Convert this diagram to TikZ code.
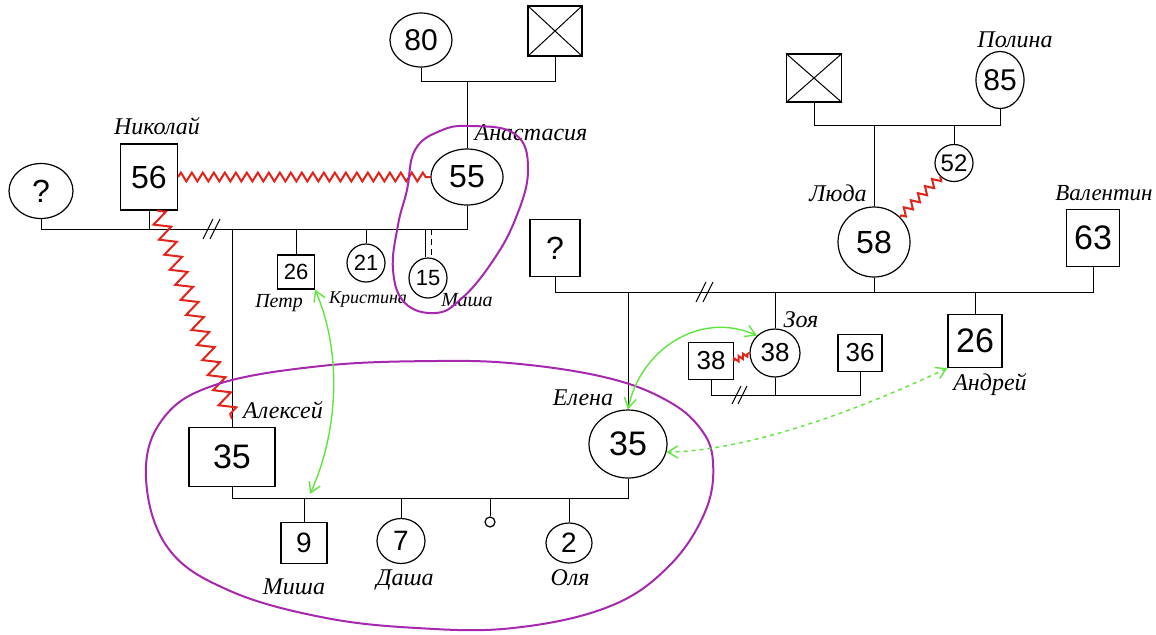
\documentclass[tikz,border=0pt]{standalone}
\usepackage{fontspec}
\setmainfont{Liberation Sans}
\newfontfamily\handfont{Liberation Serif}
\usetikzlibrary{shapes.geometric,decorations.pathmorphing,arrows.meta}
\definecolor{zred}{RGB}{225,35,25}
\definecolor{grn}{RGB}{95,230,60}
\definecolor{purp}{RGB}{165,40,175}
\tikzset{
  num/.style={font=\fontsize{#1}{#1}\selectfont},
  fem/.style={ellipse, draw, line width=0.6pt, inner sep=0pt},
  male/.style={rectangle, draw, line width=0.6pt, inner sep=0pt},
  lbl/.style={font=\handfont\itshape\fontsize{#1}{#1}\selectfont, inner sep=0pt},
  ln/.style={line width=0.5pt},
  zz/.style args={#1/#2}{draw=zred, line width=1pt, decorate, decoration={zigzag, segment length=#1, amplitude=#2}},
  loop/.style={draw=purp, line width=1pt},
  garrow/.style={draw=grn, line width=0.7pt, {Straight Barb[length=5pt,width=6pt]}-{Straight Barb[length=5pt,width=6pt]}},
}
\begin{document}
\begin{tikzpicture}[x=0.5pt,y=-0.5pt]
\useasboundingbox (0,0) rectangle (1156,634);
% ---------- left family ----------
\node[fem, minimum width=31pt, minimum height=27pt, num=15] (g80) at (421,40) {80};
\node[male, minimum width=27pt, minimum height=25pt] (gx1) at (555,31) {};
\draw[ln] (gx1.north west) -- (gx1.south east) (gx1.north east) -- (gx1.south west);
\node[fem, minimum width=32pt, minimum height=27.5pt, num=16] (q1) at (41,191) {?};
\node[male, minimum width=28.5pt, minimum height=33pt, num=16] (nik) at (149,177) {56};
\node[fem, minimum width=36pt, minimum height=28pt, num=16] (anast) at (467,177) {55};
\node[male, minimum width=18.5pt, minimum height=17pt, num=11] (petr) at (296,272) {26};
\node[fem, minimum width=19pt, minimum height=19pt, num=11] (kris) at (366,263) {21};
\node[fem, minimum width=19pt, minimum height=20pt, num=11] (masha) at (428,278) {15};
\node[male, minimum width=43pt, minimum height=29.5pt, num=17] (alexei) at (232,457) {35};

\node[lbl=12] (lnik) at (157,126) {Николай};
\node[lbl=12] (lanast) at (531,133) {Анастасия};
\node[lbl=10] (lpetr) at (279,303) {Петр};
\node[lbl=9] (lkris) at (368,300) {Кристина};
\node[lbl=10] (lmasha) at (467,300) {Маша};
\node[lbl=12] (lalex) at (283,410) {Алексей};

\coordinate (yG) at (0,81);
\draw[ln] (g80.south) -- (g80.south |- yG) -- (gx1.south |- yG) -- (gx1.south);
\draw[ln] (anast.north |- yG) -- (anast.north);

\coordinate (yN) at (0,229);
\draw[ln] (q1.south) -- (q1.south |- yN) -- (nik.south |- yN);
\draw[ln] (nik.south) -- (nik.south |- yN) -- (anast.south |- yN) -- (anast.south);
\draw[ln] (alexei.north |- yN) -- (alexei.north);
\draw[ln] (petr.north |- yN) -- (petr.north);
\draw[ln] (kris.north |- yN) -- (kris.north);
\coordinate (ms1) at ([xshift=-1.5pt]masha.north);
\coordinate (ms2) at ([xshift=1.5pt]masha.north);
\draw[ln] (ms1 |- yN) -- (ms1);
\draw[ln, densely dashed] (ms2 |- yN) -- (ms2);
\coordinate (dv1) at (212,229);
\draw[ln] ([shift={(-9,10)}]dv1) -- ++(10,-20);
\draw[ln] ([shift={(-2,10)}]dv1) -- ++(10,-20);

\draw[zz=5.5pt/2.2pt] (nik.east) -- (anast.west);
\coordinate (zend) at ([yshift=4pt]alexei.north);
\draw[zz=8pt/4pt] ([xshift=4pt]nik.south) -- (zend);

\draw[loop] plot[smooth cycle, tension=0.7] coordinates {(470,126) (515,134) (528,170) (515,220) (490,265) (460,300) (435,313) (405,303) (393,270) (398,225) (407,190) (415,150) (440,131)};

% ---------- right family ----------
\node[male, minimum width=27.5pt, minimum height=24pt] (gx2) at (814,78) {};
\draw[ln] (gx2.north west) -- (gx2.south east) (gx2.north east) -- (gx2.south west);
\node[fem, minimum width=24pt, minimum height=28.5pt, num=15] (pol) at (1000,80) {85};
\node[fem, minimum width=36pt, minimum height=35pt, num=16] (luda) at (874,242) {58};
\node[fem, minimum width=19pt, minimum height=18.5pt, num=12] (f52) at (954,163) {52};
\node[male, minimum width=26.5pt, minimum height=28.5pt, num=17] (val) at (1093,238) {63};
\node[male, minimum width=25pt, minimum height=28.5pt, num=16] (q2) at (555,248) {?};
\node[fem, minimum width=25pt, minimum height=24pt, num=13] (zoya) at (775,353) {38};
\node[male, minimum width=22.5pt, minimum height=18.5pt, num=13] (zex) at (711,361) {38};
\node[male, minimum width=22pt, minimum height=18.5pt, num=13] (m36) at (860,353) {36};
\node[male, minimum width=27pt, minimum height=26.5pt, num=17] (andr) at (975,341) {26};
\node[fem, minimum width=39pt, minimum height=34pt, num=17] (elena) at (628,444) {35};

\node[lbl=12] (lpol) at (1015,40) {Полина};
\node[lbl=12] (lluda) at (838,193) {Люда};
\node[lbl=11.5] (lval) at (1104,193) {Валентин};
\node[lbl=12] (lzoya) at (801,320) {Зоя};
\node[lbl=12] (landr) at (990,385) {Андрей};
\node[lbl=12] (lelena) at (583,398) {Елена};

\coordinate (yP) at (0,125);
\draw[ln] (gx2.south) -- (gx2.south |- yP) -- (pol.south |- yP) -- (pol.south);
\draw[ln] (luda.north |- yP) -- (luda.north);
\draw[ln] (f52.north |- yP) -- (f52.north);
\draw[zz=5pt/2pt] (f52.south west) -- (luda.north east);

\coordinate (yL) at (0,292);
\draw[ln] (q2.south) -- (q2.south |- yL) -- (luda.south |- yL);
\draw[ln] (luda.south) -- (luda.south |- yL) -- (val.south |- yL) -- (val.south);
\coordinate (dv2) at (705,292);
\draw[ln] ([shift={(-9,10)}]dv2) -- ++(10,-20);
\draw[ln] ([shift={(-2,10)}]dv2) -- ++(10,-20);
\draw[ln] (elena.north |- yL) -- (elena.north);
\draw[ln] (zoya.north |- yL) -- (zoya.north);
\draw[ln] (andr.north |- yL) -- (andr.north);

\coordinate (yZ) at (0,395);
\draw[ln] (zex.south) -- (zex.south |- yZ) -- (m36.south |- yZ) -- (m36.south);
\draw[ln] (zoya.south) -- (zoya.south |- yZ);
\coordinate (dv3) at (740,395);
\draw[ln] ([shift={(-8,9)}]dv3) -- ++(9,-18);
\draw[ln] ([shift={(-2,9)}]dv3) -- ++(9,-18);
\draw[zz=2.5pt/1.2pt] (zex.east) -- (zoya.west);

% ---------- Alexei + Elena ----------
\node[male, minimum width=23pt, minimum height=20.5pt, num=14] (misha) at (304,543) {9};
\node[fem, minimum width=24pt, minimum height=22.5pt, num=14] (dasha) at (401,541) {7};
\node[fem, minimum width=5pt, minimum height=5pt] (mc) at (490,522) {};
\node[fem, minimum width=23pt, minimum height=20pt, num=14] (olya) at (569,543) {2};
\node[lbl=12] (lmisha) at (294,587) {Миша};
\node[lbl=12] (ldasha) at (405,580) {Даша};
\node[lbl=12] (lolya) at (570,578) {Оля};

\coordinate (yA) at (0,498);
\draw[ln] (alexei.south) -- (alexei.south |- yA) -- (elena.south |- yA) -- (elena.south);
\draw[ln] (misha.north |- yA) -- (misha.north);
\draw[ln] (dasha.north |- yA) -- (dasha.north);
\draw[ln] (mc.north |- yA) -- (mc.north);
\draw[ln] (olya.north |- yA) -- (olya.north);

\draw[loop] plot[smooth cycle, tension=0.65] coordinates {(146,478) (162,420) (215,385) (321,366) (436,361) (520,364) (608,378) (666,400) (700,428) (713,462) (705,512) (668,567) (608,607) (513,628) (417,628) (321,617) (228,590) (168,548)};

% ---------- green arrows ----------
\coordinate (misharr) at ([shift={(6,-28)}]misha.north);
\draw[garrow] (petr.south east) .. controls (345,360) and (335,440) .. (misharr);
\draw[garrow] (elena.north) .. controls (640,350) and (700,310) .. (zoya.north west);
\draw[garrow, dash pattern=on 2pt off 2pt] (andr.south west) .. controls (880,400) and (760,450) .. (elena.-12);
\end{tikzpicture}
\end{document}
